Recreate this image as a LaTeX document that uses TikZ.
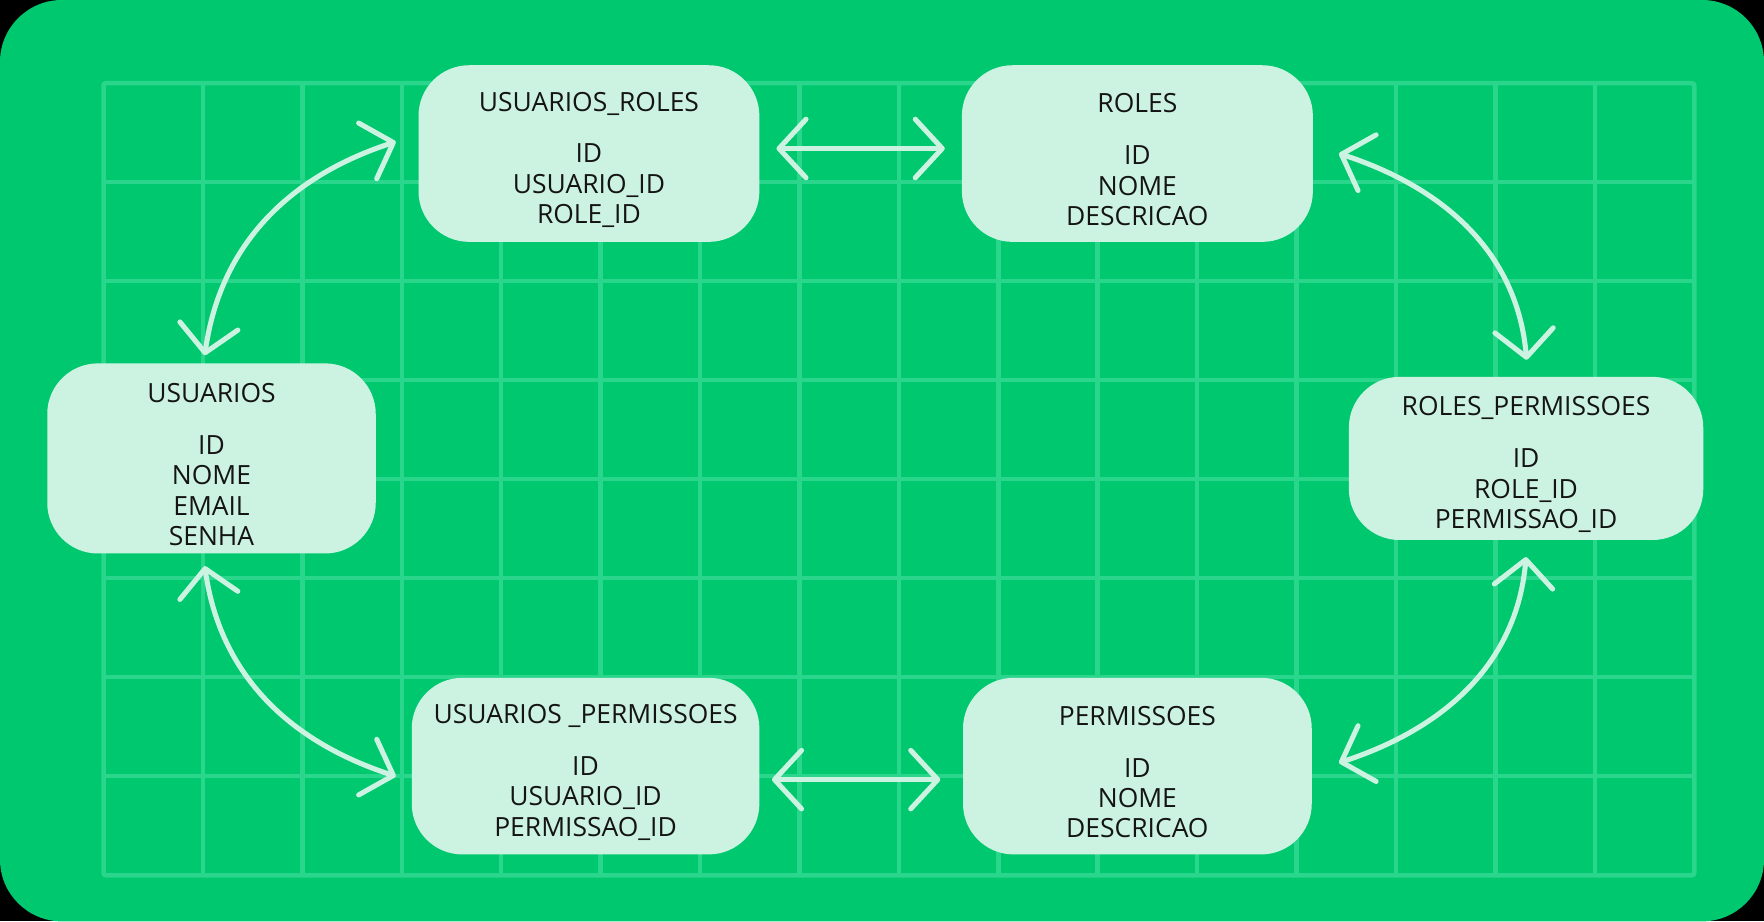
\documentclass[tikz,border=0pt]{standalone}
\usepackage{fontspec}
\setmainfont{Open Sans}
\usetikzlibrary{arrows.meta,calc}
\definecolor{bggreen}{RGB}{0,200,110}
\definecolor{gridgreen}{RGB}{42,214,140}
\definecolor{mint}{RGB}{204,243,225}
\definecolor{ink}{RGB}{20,20,20}
\newcommand{\toppad}{\rule{0pt}{28pt}}
\tikzset{
  relbox/.style={rectangle,rounded corners=45pt,fill=mint,text=ink,align=center,inner sep=0pt,
    font=\fontsize{23.5}{27}\selectfont,minimum height=157pt},
  rel/.style={draw=mint,line width=4.5pt,
    {Straight Barb[length=24pt 0,width=52pt 0,round]}-{Straight Barb[length=24pt 0,width=52pt 0,round]}},
}
\begin{document}
\begin{tikzpicture}[x=1pt,y=1pt]
\useasboundingbox (0,0) rectangle (1568,819);
\fill[black] (0,0) rectangle (1568,819);
\fill[bggreen,rounded corners=55pt] (0,0) rectangle (1568,819);
\draw[gridgreen,line width=4pt,rounded corners=2pt] (92,41) rectangle (1506,745);
\foreach \i in {1,...,15} \draw[gridgreen,line width=4pt] (92+\i*88.375,41) -- (92+\i*88.375,745);
\foreach \j in {1,...,7} \draw[gridgreen,line width=4pt] (92,41+\j*88) -- (1506,41+\j*88);
\node[relbox,minimum width=303pt] (usrol) at (523.5,682.5) {\toppad USUARIOS\_ROLES\\[19pt]ID\\USUARIO\_ID\\ROLE\_ID};
\node[relbox,minimum width=312pt] (roles) at (1011,682.5) {\toppad ROLES\\[19pt]ID\\NOME\\DESCRICAO};
\node[relbox,minimum width=292pt,minimum height=169pt] (usu) at (188,411.5) {\toppad USUARIOS\\[19pt]ID\\NOME\\EMAIL\\SENHA};
\node[relbox,minimum width=315pt,minimum height=145pt] (rolperm) at (1356.5,411.5) {\toppad ROLES\_PERMISSOES\\[19pt]ID\\ROLE\_ID\\PERMISSAO\_ID};
\node[relbox,minimum width=309pt] (usperm) at (520.5,138) {\toppad USUARIOS \_PERMISSOES\\[19pt]ID\\USUARIO\_ID\\PERMISSAO\_ID};
\node[relbox,minimum width=310pt] (perm) at (1011,138) {\toppad PERMISSOES\\[19pt]ID\\NOME\\DESCRICAO};
\draw[rel] ($(usu.north)+(-6,7)$) to[out=82,in=198] ($(usrol.west)+(-20,10.5)$);
\draw[rel] ($(usrol.east)+(15,4.5)$) -- ($(roles.west)+(-15,4.5)$);
\draw[rel] ($(roles.east)+(23,0)$) to[out=-18,in=95] ($(rolperm.north)+(0.5,15)$);
\draw[rel] ($(rolperm.south)+(0,-15)$) to[out=-95,in=18] ($(perm.east)+(24,3)$);
\draw[rel] ($(usperm.east)+(11,-12)$) -- ($(perm.west)+(-20,-12)$);
\draw[rel] ($(usu.south)+(-6,-11)$) to[out=-82,in=162] ($(usperm.west)+(-14,-9)$);
\end{tikzpicture}
\end{document}
